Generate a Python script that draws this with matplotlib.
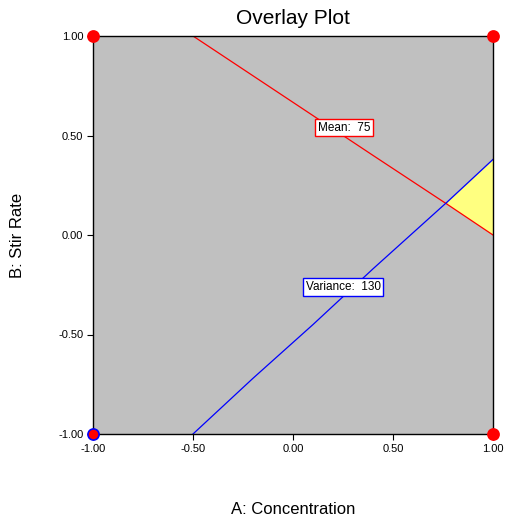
import matplotlib
matplotlib.use("Agg")
import matplotlib.pyplot as plt
import numpy as np

plt.rcParams["font.family"] = ["Liberation Sans", "DejaVu Sans"]

# contour lines (A, B)
mean_x = [-0.50, -0.20, 0.10, 0.40, 0.77, 1.00]
mean_y = [1.00, 0.80, 0.60, 0.40, 0.155, 0.00]
var_x = [-0.50, -0.20, 0.10, 0.40, 0.77, 1.00]
var_y = [-1.00, -0.72, -0.45, -0.17, 0.165, 0.38]

# design points
pts_x = [-1.0, 1.0, 1.0, -1.0]
pts_y = [1.0, 1.0, -1.0, -1.0]
pts_edge = ["red", "red", "red", "blue"]

ticks = [-1.0, -0.5, 0.0, 0.5, 1.0]
tick_labels = ["-1.00", "-0.50", "0.00", "0.50", "1.00"]

fig = plt.figure(figsize=(5.05, 5.21), dpi=100)
ax = fig.add_axes([93 / 505, 1 - 434 / 521, 400 / 505, 398 / 521])
ax.set_facecolor("#C0C0C0")

# yellow sweet spot: above the mean line, below the variance line
xs = np.linspace(0.77, 1.0, 50)
ax.fill_between(xs, np.interp(xs, mean_x, mean_y), np.interp(xs, var_x, var_y),
                color="#FFFF80", lw=0, zorder=1)

ax.plot(mean_x, mean_y, color="red", lw=0.9, zorder=2)
ax.plot(var_x, var_y, color="blue", lw=0.9, zorder=2)

ax.text(0.255, 0.54, "Mean:  75", fontsize=8.5, ha="center", va="center", zorder=3,
        bbox=dict(boxstyle="square,pad=0.25", fc="white", ec="red", lw=1))
ax.text(0.25, -0.26, "Variance:  130", fontsize=8.5, ha="center", va="center", zorder=3,
        bbox=dict(boxstyle="square,pad=0.25", fc="white", ec="blue", lw=1))

for x, y, ec in zip(pts_x, pts_y, pts_edge):
    ax.plot(x, y, "o", ms=8, mfc="red", mec=ec, mew=1.2, clip_on=False, zorder=5)

ax.set_xlim(-1, 1)
ax.set_ylim(-1, 1)
ax.set_xticks(ticks)
ax.set_xticklabels(tick_labels)
ax.set_yticks(ticks)
ax.set_yticklabels(tick_labels)
ax.tick_params(direction="out", length=4, width=0.8, labelsize=8, pad=3)
for s in ax.spines.values():
    s.set_linewidth(1.0)
    s.set_color("black")

fig.text(0.5 * (93 + 493) / 505, 1 - 18 / 521, "Overlay Plot", fontsize=15,
         ha="center", va="center")
fig.text(0.5 * (93 + 493) / 505, 1 - 510 / 521, "A: Concentration", fontsize=12,
         ha="center", va="center")
fig.text(18 / 505, 1 - 235 / 521, "B: Stir Rate", fontsize=12, rotation=90,
         ha="center", va="center")

fig.savefig("out.png", dpi=100)
